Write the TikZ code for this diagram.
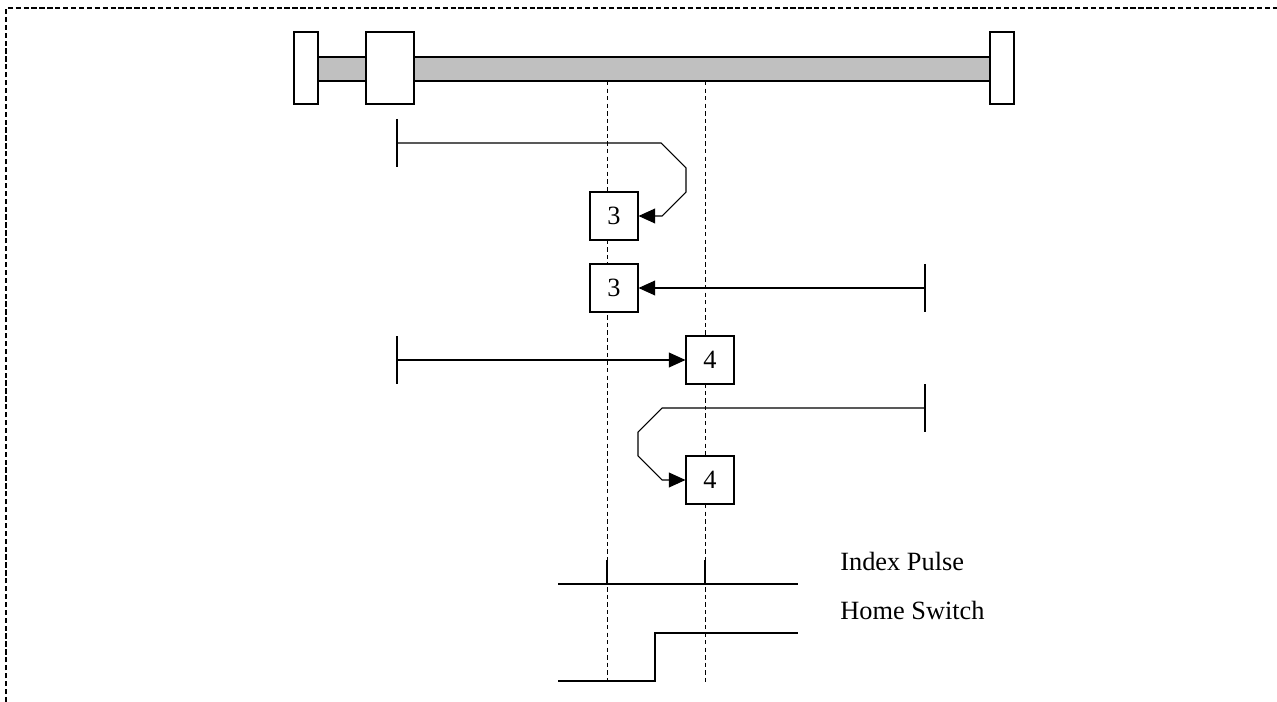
\documentclass[tikz,border=0pt]{standalone}
\usepackage{fontspec}
\setmainfont{Liberation Serif}
\usetikzlibrary{arrows.meta}

\begin{document}
\begin{tikzpicture}[x=0.02cm,y=-0.02cm,
	box/.style={draw,fill=white,minimum size=0.96cm,inner sep=0pt,line width=0.6pt,font=\fontsize{15}{18}\selectfont},
	move/.style={line width=0.6pt,-{Triangle[length=9.5pt,width=8.5pt]}},
	tick/.style={line width=0.6pt},
	guide/.style={line width=0.5pt,dash pattern=on 2.5pt off 1.8pt},
	label/.style={anchor=west,inner sep=0pt,font=\fontsize{15}{18}\selectfont}]
	\useasboundingbox (0,0) rectangle (1277,702);
	
	% frame
	\draw [line width=1pt,dash pattern=on 3pt off 1.5pt] (6,702) -- (6,8) -- (1277,8);
	
	% carriage on the axis
	\draw [line width=0.7pt,fill={rgb,255:red,192;green,192;blue,192}] (318,57) rectangle (990,81);
	\draw [line width=0.7pt,fill=white] (294,32) rectangle (318,104);
	\draw [line width=0.7pt,fill=white] (366,32) rectangle (414,104);
	\draw [line width=0.7pt,fill=white] (990,32) rectangle (1014,104);
	
	% index and home positions
	\coordinate (IDX1_TOP) at (607,81);
	\coordinate (IDX1_BOT) at (607,685);
	\coordinate (IDX2_TOP) at (705,81);
	\coordinate (IDX2_BOT) at (705,685);
	\draw [guide] (IDX1_TOP) -- (IDX1_BOT);
	\draw [guide] (IDX2_TOP) -- (IDX2_BOT);
	
	% stopping points
	\node [box] (STOP3A) at (614,216) {3};
	\node [box] (STOP3B) at (614,288) {3};
	\node [box] (STOP4A) at (710,360) {4};
	\node [box] (STOP4B) at (710,480) {4};
	
	% start points
	\coordinate (START1) at (397,143);
	\coordinate (START2) at (925,288);
	\coordinate (START3) at (397,360);
	\coordinate (START4) at (925,408);
	\draw [tick] (START1) +(0,-24) -- +(0,24);
	\draw [tick] (START2) +(0,-24) -- +(0,24);
	\draw [tick] (START3) +(0,-24) -- +(0,24);
	\draw [tick] (START4) +(0,-24) -- +(0,24);
	
	\draw [move] (START1) -- (661,143) -- (686,168) -- (686,192) -- (662,216) -- (STOP3A.east);
	\draw [move] (START2) -- (STOP3B.east);
	\draw [move] (START3) -- (STOP4A.west);
	\draw [move] (START4) -- (662,408) -- (638,432) -- (638,456) -- (662,480) -- (STOP4B.west);
	
	% signals
	\draw [tick] (558,584) -- (798,584);
	\draw [tick] (607,560) -- (607,584);
	\draw [tick] (705,560) -- (705,584);
	\draw [tick] (558,681) -- (655,681) -- (655,633) -- (798,633);
	\node [label] (INDEX) at (840,561) {Index Pulse};
	\node [label] (HOME) at (840,610) {Home Switch};
	
\end{tikzpicture}
\end{document}
